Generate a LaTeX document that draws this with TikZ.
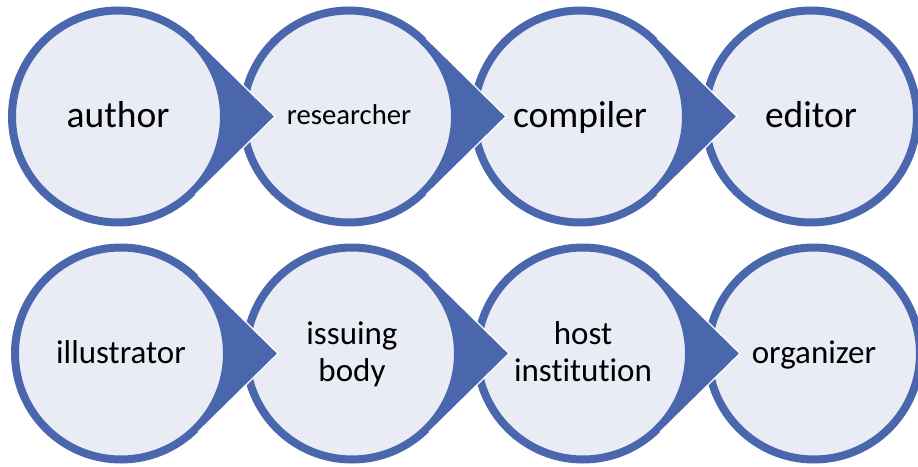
\documentclass[tikz,border=0pt]{standalone}
\usepackage{fontspec}
\setmainfont{Carlito}[Ligatures=NoCommon]
\usepackage{tikz}
\usetikzlibrary{calc}
\usetikzlibrary{positioning}
\definecolor{ringblue}{HTML}{4A67AD}
\definecolor{discfill}{HTML}{E9EBF5}
\newcommand{\lstrut}{\rule[-.16em]{0pt}{.91em}}
\newcommand{\pointer}[2]{%
  \fill[ringblue] ($(#1)+(45.5:110pt)$) -- ($(#1)!157pt!(#2)$) -- ($(#1)+(-45.5:110pt)$)
    -- ($(#1)+(-45.5:106pt)$) arc[start angle=-45.5, end angle=45.5, radius=106pt] -- cycle;
  \draw[white, line width=1.3pt] ($(#1)+(45.5:110pt)$) -- ($(#1)!157pt!(#2)$) -- ($(#1)+(-45.5:110pt)$);
}

\begin{document}
\begin{tikzpicture}[x=1pt,y=1pt,
    disc/.style={circle, draw=ringblue, fill=discfill, line width=8pt,
      minimum size=212pt, inner sep=0pt, outer sep=0pt, align=center},
    bigtext/.style={font=\fontsize{37.5}{42}\selectfont},
    midtext/.style={font=\fontsize{33}{37}\selectfont},
    smalltext/.style={font=\fontsize{28.7}{32}\selectfont}]
  \useasboundingbox (0,0) rectangle (918,-466);
  % first row
  \node[disc, bigtext] (author) at (118,-116.5) {\lstrut author};
  \node[disc, smalltext, right=19pt of author] (researcher) {\lstrut researcher};
  \node[disc, bigtext, right=19pt of researcher] (compiler) {\lstrut compiler};
  \node[disc, bigtext, right=19pt of compiler] (editor) {\lstrut editor};
  % second row
  \node[disc, midtext] (illustrator) at (121,-353.5) {\lstrut illustrator};
  \node[disc, midtext, right=19pt of illustrator] (issuing) {\lstrut issuing\\\lstrut body};
  \node[disc, midtext, right=19pt of issuing] (host) {\lstrut host\\\lstrut institution};
  \node[disc, midtext, right=19pt of host] (organizer) {\lstrut organizer};
  % pointers
  \pointer{author}{researcher}
  \pointer{researcher}{compiler}
  \pointer{compiler}{editor}
  \pointer{illustrator}{issuing}
  \pointer{issuing}{host}
  \pointer{host}{organizer}
\end{tikzpicture}
\end{document}
